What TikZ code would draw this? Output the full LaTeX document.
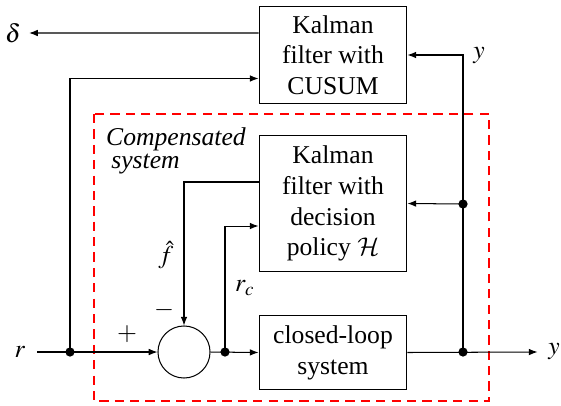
\documentclass[tikz,border=0pt]{standalone}
\usepackage{mathptmx}
\usepackage[no-math]{fontspec}
\setmainfont{Liberation Serif}
\DeclareMathAlphabet{\mathcal}{OMS}{cmsy}{m}{n}
\usetikzlibrary{arrows.meta}
\begin{document}
\begin{tikzpicture}[x=0.39pt,y=-0.39pt,
  font=\fontsize{10}{12}\selectfont,
  blk/.style={draw, line width=0.4pt, align=center, inner sep=0pt, minimum width=57.7pt},
  dot/.style={circle, fill=black, inner sep=0pt, minimum size=3.6pt},
  lab/.style={inner sep=0pt},
  conn/.style={line width=0.4pt},
  arr/.style={conn, -{Latex[length=3.4pt,width=2.6pt]}},
  frame/.style={draw=red, line width=0.8pt, dash pattern=on 3.6pt off 2.4pt}]
\useasboundingbox (0,0) rectangle (561,405);
% frame
\draw[frame] (94,114) rectangle (489,401);
% blocks
\node[blk, minimum height=38.2pt] (kc) at (333,55) {Kalman\\filter with\\CUSUM};
\node[blk, minimum height=52.7pt] (kd) at (333,203.5) {Kalman\\filter with\\decision\\policy $\mathcal{H}$};
\node[blk, minimum height=28.5pt] (cl) at (333,352.5) {closed-loop\\system};
\node[circle, draw, line width=0.4pt, minimum size=20.3pt, inner sep=0pt] (sum) at (184,352) {};
% dots
\node[dot] (d1) at (70,352) {};
\node[dot] (d2) at (225,352) {};
\node[dot] (d3) at (463,352) {};
\node[dot] (d4) at (463,204) {};
% labels
\node[lab] (r) at (20,352) {$r$};
\node[lab] (delta) at (13,33) {$\delta$};
\node[lab] (ytop) at (479,56) {$y$};
\node[lab] (yout) at (554,352) {$y$};
\node[lab] (fhat) at (166,255) {$\hat{f}$};
\node[lab] (rc) at (245,288) {$r_c$};
\node[lab] (minus) at (164,310) {$-$};
\node[lab] (plus) at (127,334) {$+$};
\node[lab, align=left, font=\fontsize{10}{9}\selectfont\itshape] (comp) at (176,151) {Compensated\\\hspace{2pt}system};
% connectors
\draw[arr] (r.east) ++(4.5pt,0) -- (sum.west);
\draw[arr] (d1.center) |- ([yshift=10.14pt]kc.south west);
\draw[arr] ([yshift=8.58pt]kc.west) -- ([xshift=3pt]delta.east);
\draw[arr] (d4.center) |- (kc.east);
\draw[arr] (d4.center) -- (kd.east);
\draw[conn] (d3.center) -- (d4.center);
\draw[arr] (cl.east) -- ([xshift=-4pt]yout.west);
\draw[arr] (sum.east) -- (cl.west);
\draw[arr] (d2.center) |- ([yshift=-8.78pt]kd.west);
\draw[arr] ([yshift=8.39pt]kd.west) -| (sum.north);
\end{tikzpicture}
\end{document}
